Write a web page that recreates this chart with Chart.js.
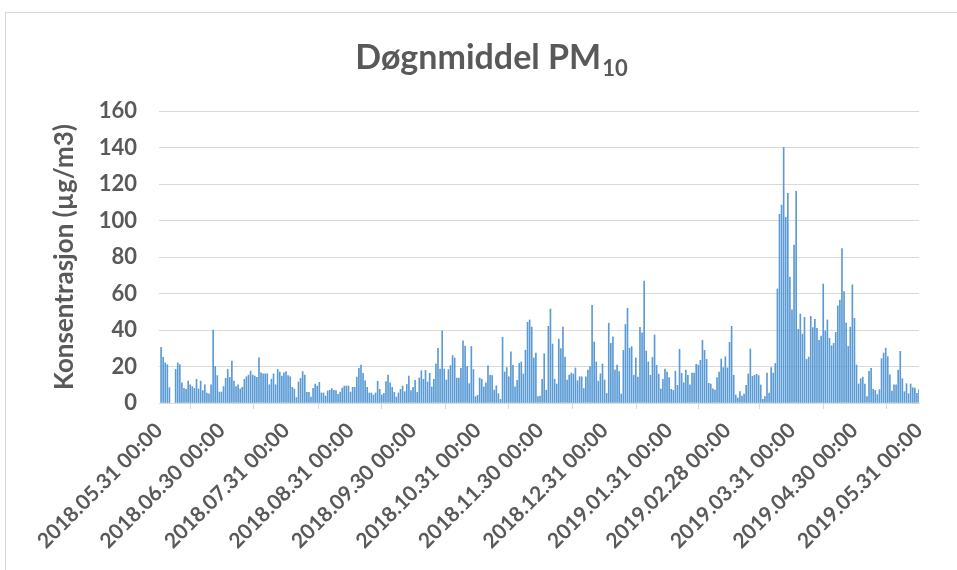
<!DOCTYPE html>
<html><head><meta charset="utf-8">
<script src="https://cdn.jsdelivr.net/npm/chart.js@4/dist/chart.umd.min.js"></script>
<style>
html,body{margin:0;padding:0;background:#fff;overflow:hidden;width:957px;height:570px}
#frame{position:absolute;left:5px;top:12px;width:1000px;height:600px;border:1px solid #d9d9d9;}
#wrap{position:absolute;left:0;top:0;width:957px;height:570px}
</style></head><body>
<div id="frame"></div>
<div id="wrap"><canvas id="c" width="957" height="570"></canvas></div>
<script>
// ---------------- DATA ----------------
const startDate = '2018-05-31';
// daily mean PM10 (µg/m3), one value per day from 2018-05-31 to 2019-05-31 (null = no data)
const pm10 = [
  null, 30.5, 25, 22, 21, 8.4, null, null, 18.4, 22, 21, 11, 8, 7.5, 12, 10, 9, 8, 13, 7.7, 12, 6.8, 10, 5.5, 5, 10, 40, 20, 15, 6, 6,
  9, 13.5, 18.4, 14, 23, 12, 9, 10, 7.7, 8.6, 13, 14.4, 15.3, 17.5, 15.3, 14.8, 14, 24.7, 16.6, 16, 16, 16, 10, 13, 16, 10, 18.4, 17, 14.8, 16.6,
  17.2, 15, 14.4, 8.6, 7.7, 3, 11.5, 13.5, 17.2, 15.3, 5.8, 5.8, 3.3, 8, 10.4, 9.3, 11.3, 5.5, 5.5, 3.8, 6.6, 7, 7.9, 7, 6.8, 4.7, 6, 8.2, 9.3, 9.3, 9.3,
  6, 8.6, 8.6, 14.2, 19, 20.8, 16.3, 12.2, 8.6, 5.5, 5.5, 4.4, 5.5, 11.9, 7.5, 4.4, 5.3, 11.7, 15.3, 11, 8.6, 5.8, 3.3, 5.5, 7.5, 9.3, 6.2, 10.2, 14.8, 6.8,
  8.6, 12.4, 5.8, 13.7, 17.7, 13, 17.9, 11.5, 16.3, 8.8, 13, 21.4, 30, 18.6, 39.5, 18.6, 12.6, 18.3, 20.5, 26, 24.7, 13.7, 13.7, 19, 34, 31.2, 19.9, 10.6, 31, 18.3, 3.5,
  4.2, 13.7, 13, 8.8, 11, 20.3, 15.2, 15, 7.1, 9.5, 5.1, 2, 36, 17, 19.4, 14.4, 28, 20.6, 8.8, 12.4, 21.7, 22.5, 15.9, 28.9, 44.2, 45.5, 41.6, 24.7, 27.4, 3.5, 3.8,
  13, 27, 7, 42, 51.5, 32.3, 13, 10.4, 35, 29.8, 41.6, 25.2, 12.6, 15.3, 16.4, 15.9, 19.2, 12.2, 14.4, 14.4, 7.9, 14.4, 18, 19.9, 53.5, 33.4, 22.5, 12, 16, 21.4, 12.6,
  5.3, 43.7, 32.7, 36.3, 18, 20.8, 17.2, 4.9, 28.9, 43, 51.9, 30, 30.9, 15.2, 24.7, 14.2, 41.5, 38.5, 66.8, 28.5, 22.5, 15.2, 25, 37.3, 20.6, 15.9, 7.7, 13, 18.6, 17,
  13.9, 7.5, 6.9, 17.4, 9.7, 29.4, 16.3, 11.1, 18, 15.2, 9.9, 16.4, 16.4, 21.2, 20.8, 23.4, 34.3, 28.9, 23.9, 10.8, 10.4, 7.7, 7.1, 13.9, 17, 24.1, 19.4, 25.4, 19.2,
  33.2, 42, 15.2, 4.4, 2.7, 6.2, 3.8, 4.9, 9.7, 15.9, 29.6, 14.6, 15.2, 15.7, 15, 9.9, 2, 3.5, 16.4, 5.5, 19.4, 16.4, 21.7, 62.5, 103.4, 108.5, 140, 101.7, 114.9, 69, 51, 86.6,
  116, 40.4, 48.8, 37.8, 46.9, 23.9, 25.2, 47.5, 41.3, 45.8, 40.9, 34.3, 36.7, 65.2, 39.5, 45.5, 35.4, 31.4, 32.7, 38.7, 53.2, 56.4, 84.6, 61, 43.8, 31, 41.6, 64.8, 46.4, 20.8,
  10.4, 13.3, 14.2, 10.4, 3.5, 17.4, 19, 7.5, 6.9, 4.6, 7.3, 24.3, 27.4, 30.1, 25.4, 15.5, 6.6, 9.9, 9.9, 18, 28.3, 13.3, 6.2, 10.6, 5.1, 10.4, 8.4, 8.2, 5.3, 7.3
];
const tickLabels = [
  '2018.05.31 00:00', '2018.06.30 00:00', '2018.07.31 00:00', '2018.08.31 00:00',
  '2018.09.30 00:00', '2018.10.31 00:00', '2018.11.30 00:00', '2018.12.31 00:00',
  '2019.01.31 00:00', '2019.02.28 00:00', '2019.03.31 00:00', '2019.04.30 00:00',
  '2019.05.31 00:00'
];
const yMin = 0, yMax = 160, yStep = 20;
const titleMain = 'Døgnmiddel PM';
const titleSub = '10';
const yTitle = 'Konsentrasjon (µg/m3)';

// ---------------- HELPERS ----------------
function dayOffset(label) {
  const p = label.slice(0, 10).split(/[.-]/).map(Number);
  const s = startDate.split('-').map(Number);
  return Math.round((Date.UTC(p[0], p[1] - 1, p[2]) - Date.UTC(s[0], s[1] - 1, s[2])) / 86400000);
}
const tickPos = tickLabels.map(dayOffset);
const points = pm10.map((v, i) => ({ x: i, y: v }));

const FONT = "Lato, 'Open Sans', sans-serif";
const GREY = '#595959';
const GRID = '#d9d9d9';

const titlePlugin = {
  id: 'subTitle',
  afterDraw(chart) {
    const ctx = chart.ctx;
    ctx.save();
    const mainFont = 'bold 34px ' + FONT;
    const subFont = 'bold 22px ' + FONT;
    ctx.font = mainFont;
    const w1 = ctx.measureText(titleMain).width;
    ctx.font = subFont;
    const w2 = ctx.measureText(titleSub).width;
    const cx = 491;
    let x = cx - (w1 + w2) / 2;
    const base = 69;
    ctx.fillStyle = GREY;
    ctx.textBaseline = 'alphabetic';
    ctx.textAlign = 'left';
    ctx.font = mainFont;
    ctx.fillText(titleMain, x, base);
    ctx.font = subFont;
    ctx.fillText(titleSub, x + w1 + 1, base + 7);
    ctx.restore();
  }
};

new Chart(document.getElementById('c'), {
  type: 'bar',
  data: {
    datasets: [{
      data: points,
      backgroundColor: '#5B9BD5',
      borderWidth: 0,
      barThickness: 1
    }]
  },
  options: {
    responsive: false,
    animation: false,
    devicePixelRatio: 1,
    layout: { padding: { top: 111, right: 38, left: 0, bottom: 0 } },
    plugins: { legend: { display: false }, tooltip: { enabled: false }, title: { display: false } },
    scales: {
      x: {
        type: 'linear',
        min: 0,
        max: pm10.length - 1,
        offset: false,
        afterBuildTicks: s => { s.ticks = tickPos.map(v => ({ value: v })); },
        afterFit: s => { s.height = 167; },
        ticks: {
          autoSkip: false,
          minRotation: 45,
          maxRotation: 45,
          color: GREY,
          padding: 9,
          font: { family: FONT, weight: 'bold', size: 21 },
          callback: (v, i) => tickLabels[i]
        },
        grid: { drawOnChartArea: false, drawTicks: true, tickLength: 6, color: GRID, lineWidth: 1 },
        border: { color: GRID, width: 1 }
      },
      y: {
        min: yMin,
        max: yMax,
        afterFit: s => { s.width = 159; },
        ticks: {
          stepSize: yStep,
          color: GREY,
          padding: 22,
          font: { family: FONT, weight: 'bold', size: 22 }
        },
        grid: { color: GRID, lineWidth: 1, drawTicks: false },
        border: { display: false },
        title: {
          display: true,
          text: yTitle,
          color: GREY,
          font: { family: FONT, weight: 'bold', size: 26 },
          padding: { top: 49, bottom: 0 }
        }
      }
    }
  },
  plugins: [titlePlugin]
});
</script>
</body></html>
